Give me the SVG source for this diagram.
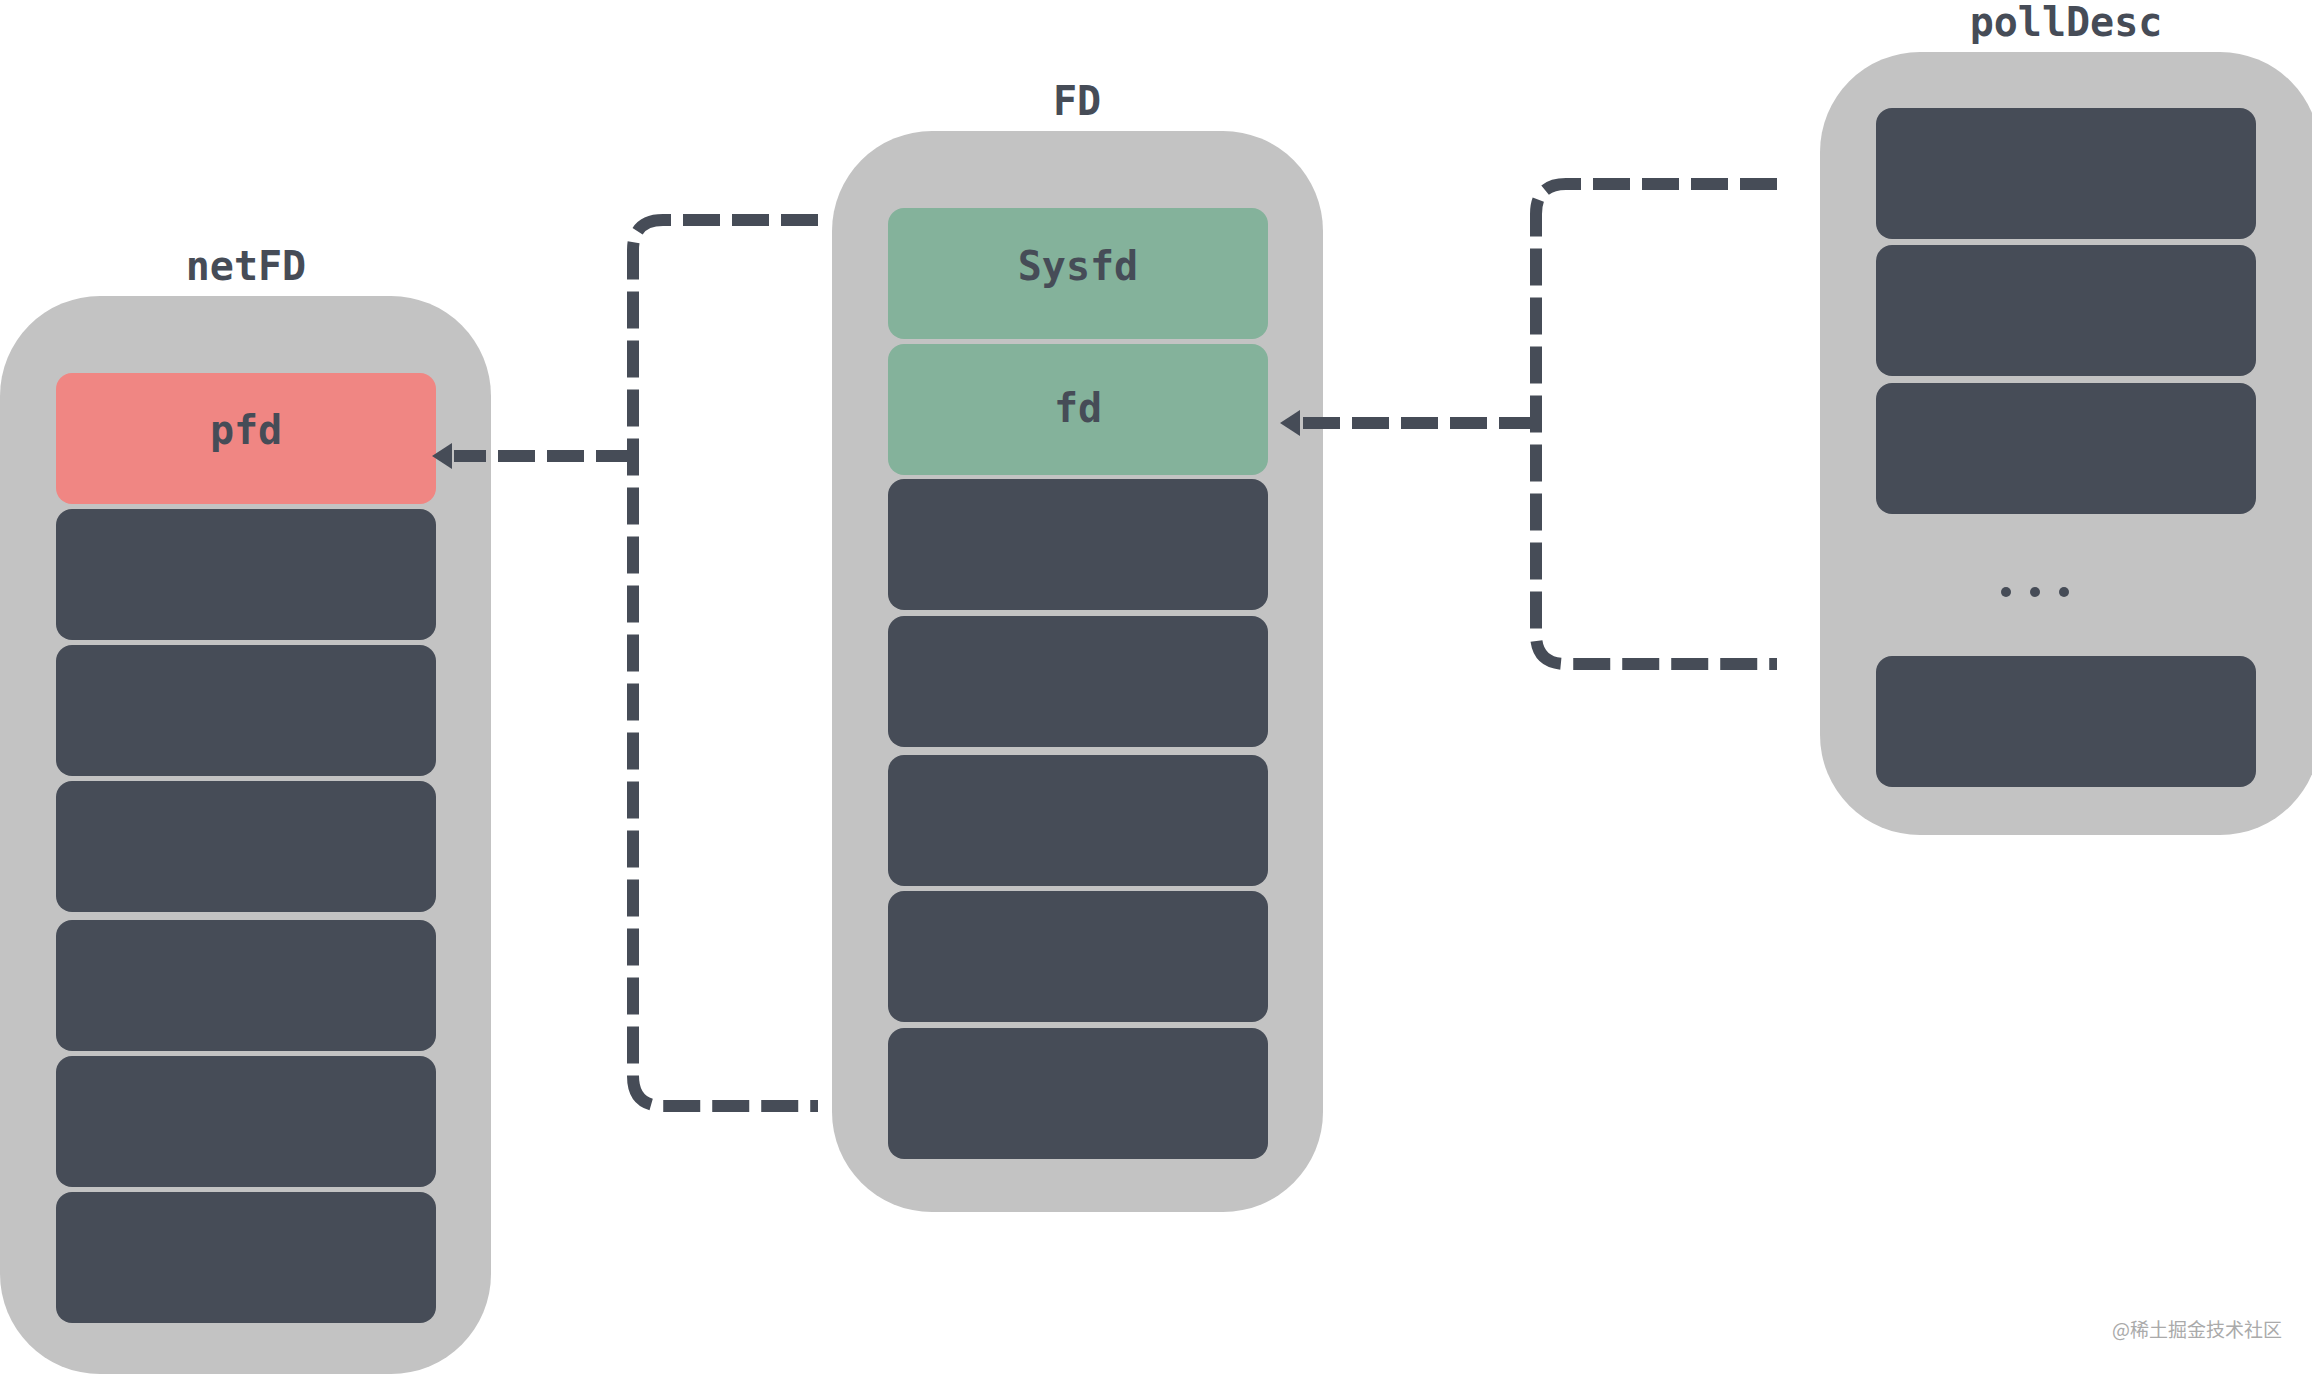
<svg xmlns="http://www.w3.org/2000/svg" width="2312" height="1376" viewBox="0 0 2312 1376">
<style>
.box{fill:#c3c3c3}
.row{fill:#464c57}
.pink{fill:#f08683}
.green{fill:#84b29b}
.t{font-family:"DejaVu Sans Mono",monospace;font-weight:bold;font-size:40px;fill:#464c57;text-anchor:middle}
.c{fill:none;stroke:#464c57;stroke-width:12;stroke-dasharray:37 12}
</style>
<defs>
<marker id="ah" markerUnits="userSpaceOnUse" markerWidth="26" markerHeight="32" refX="4" refY="16" orient="auto">
<path d="M0,16 L20,3 L20,29 Z" fill="#464c57" transform="rotate(180 13 16)"/>
</marker>
</defs>
<rect width="2312" height="1376" fill="#fff"/>
<g id="netFD">
<text class="t" x="246" y="280">netFD</text>
<rect class="box" x="0" y="296" width="491" height="1078" rx="100"/>
<rect class="pink" x="56" y="373" width="380" height="131" rx="16"/>
<text class="t" x="246" y="444">pfd</text>
<rect class="row" x="56" y="509" width="380" height="131" rx="16"/>
<rect class="row" x="56" y="645" width="380" height="131" rx="16"/>
<rect class="row" x="56" y="781" width="380" height="131" rx="16"/>
<rect class="row" x="56" y="920" width="380" height="131" rx="16"/>
<rect class="row" x="56" y="1056" width="380" height="131" rx="16"/>
<rect class="row" x="56" y="1192" width="380" height="131" rx="16"/>
</g>
<g id="FD">
<text class="t" x="1077" y="115">FD</text>
<rect class="box" x="832" y="131" width="491" height="1081" rx="100"/>
<rect class="green" x="888" y="208" width="380" height="131" rx="16"/>
<text class="t" x="1078" y="280">Sysfd</text>
<rect class="green" x="888" y="344" width="380" height="131" rx="16"/>
<text class="t" x="1078" y="422">fd</text>
<rect class="row" x="888" y="479" width="380" height="131" rx="16"/>
<rect class="row" x="888" y="616" width="380" height="131" rx="16"/>
<rect class="row" x="888" y="755" width="380" height="131" rx="16"/>
<rect class="row" x="888" y="891" width="380" height="131" rx="16"/>
<rect class="row" x="888" y="1028" width="380" height="131" rx="16"/>
</g>
<g id="pollDesc">
<text class="t" x="2066" y="36">pollDesc</text>
<rect class="box" x="1820" y="52" width="500" height="783" rx="100"/>
<rect class="row" x="1876" y="108" width="380" height="131" rx="16"/>
<rect class="row" x="1876" y="245" width="380" height="131" rx="16"/>
<rect class="row" x="1876" y="383" width="380" height="131" rx="16"/>
<circle cx="2006" cy="592" r="5" fill="#464c57"/>
<circle cx="2035" cy="592" r="5" fill="#464c57"/>
<circle cx="2064" cy="592" r="5" fill="#464c57"/>
<rect class="row" x="1876" y="656" width="380" height="131" rx="16"/>
</g>
<g id="connectors">
<path class="c" d="M818,220 H663 Q633,220 633,250 V1076 Q633,1106 663,1106 H818"/>
<path class="c" d="M633,456 H454" marker-end="url(#ah)"/>
<path class="c" d="M1777,184 H1566 Q1536,184 1536,214 V634 Q1536,664 1566,664 H1777"/>
<path class="c" d="M1536,423 H1302" marker-end="url(#ah)"/>
</g>
<text x="2197" y="1337" font-family="'Noto Sans CJK SC',sans-serif" font-size="19" fill="#aaaaaa" text-anchor="middle">@稀土掘金技术社区</text>
</svg>
